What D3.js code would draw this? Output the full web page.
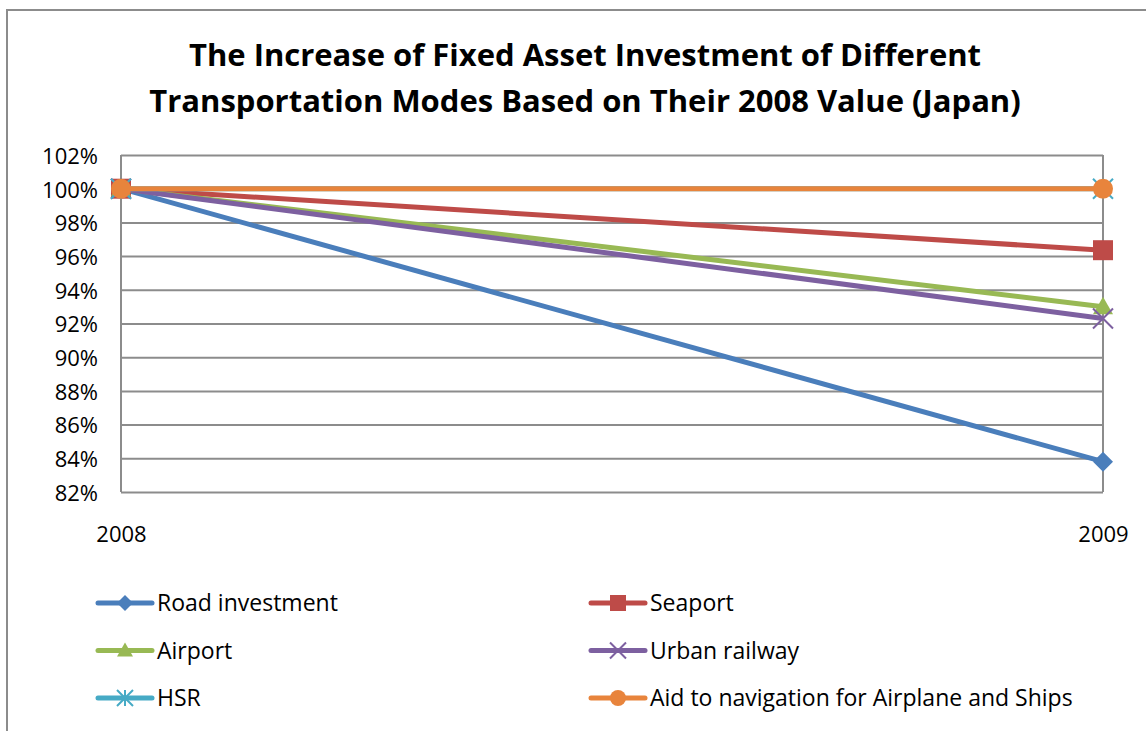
<!DOCTYPE html>
<html>
<head>
<meta charset="utf-8">
<script src="https://cdn.jsdelivr.net/npm/d3@7"></script>
<style>
  body { margin: 0; background: #fff; }
  text { font-family: "Open Sans", "Noto Sans", sans-serif; }
</style>
</head>
<body>
<div class="wrapper"></div>
<script>
var years = ["2008", "2009"];
var seriesNames = ["Road investment", "Seaport", "Airport", "Urban railway", "HSR", "Aid to navigation for Airplane and Ships"];
var road = [1.00, 0.838];
var seaport = [1.00, 0.9635];
var airport = [1.00, 0.930];
var urbanRailway = [1.00, 0.923];
var hsr = [1.00, 1.00];
var aidNav = [1.00, 1.00];
var yTicks = [0.82, 0.84, 0.86, 0.88, 0.90, 0.92, 0.94, 0.96, 0.98, 1.00, 1.02];
var titleLines = ["The Increase of Fixed Asset Investment of Different", "Transportation Modes Based on Their 2008 Value (Japan)"];

var allSeries = [road, seaport, airport, urbanRailway, hsr, aidNav];
var COLORS = ["#4A7EBB", "#BE4B48", "#98B954", "#7D60A0", "#46AAC5", "#E8843C"],
	SYMBOLS = ["diamond", "square", "triangle", "x", "star", "circle"];

var W = 1146, H = 731,
	PLOT_L = 121, PLOT_R = 1103, PLOT_T = 155, PLOT_B = 492;

var svg = d3.select(".wrapper")
	.append("svg")
		.attr("width", W)
		.attr("height", H);

// outer chart frame
svg.append("path")
	.attr("d", "M7," + H + "V10H" + W)
	.attr("fill", "none")
	.attr("stroke", "#8c8c8c")
	.attr("stroke-width", 2);

svg.append("g").selectAll("text")
	.data(titleLines)
	.enter()
	.append("text")
		.attr("x", 585)
		.attr("y", function(d, i) { return 66 + i * 46; })
		.attr("text-anchor", "middle")
		.attr("font-size", 31)
		.attr("font-weight", "bold")
		.attr("fill", "#000")
		.text(function(d) { return d; });

var x = d3.scalePoint().domain(years).range([PLOT_L, PLOT_R]);
var y = d3.scaleLinear().domain([0.82, 1.02]).range([PLOT_B, PLOT_T]);

// gridlines + y axis labels
var yAxis = d3.axisLeft(y)
	.tickValues(yTicks)
	.tickSize(-(PLOT_R - PLOT_L))
	.tickPadding(23)
	.tickFormat(d3.format(".0%"));

var gy = svg.append("g")
	.attr("transform", "translate(" + PLOT_L + ",0)")
	.call(yAxis);
gy.select(".domain").remove();
gy.selectAll(".tick line").attr("stroke", "#8c8c8c").attr("stroke-width", 2);
gy.selectAll(".tick text")
	.attr("font-size", 22)
	.attr("fill", "#000")
	.attr("dy", "0.38em")
	.attr("font-family", "Open Sans, sans-serif");

// vertical edges of plot area
svg.append("g").selectAll("line")
	.data(years)
	.enter()
	.append("line")
		.attr("x1", function(d) { return x(d); })
		.attr("x2", function(d) { return x(d); })
		.attr("y1", PLOT_T)
		.attr("y2", PLOT_B)
		.attr("stroke", "#8c8c8c")
		.attr("stroke-width", 2);

// x labels (sit well below the plot, as in the original)
var xAxis = d3.axisBottom(x).tickSize(0).tickPadding(0);
var gx = svg.append("g")
	.attr("transform", "translate(0,526)")
	.call(xAxis);
gx.select(".domain").remove();
gx.selectAll(".tick text")
	.attr("font-size", 22)
	.attr("fill", "#000")
	.attr("font-family", "Open Sans, sans-serif");

// marker drawing
function marker(sel, k, size) {
	var c = COLORS[k], s = SYMBOLS[k], r = size / 2, d;
	if (s === "x" || s === "star") {
		d = "M" + (-r) + "," + (-r) + "L" + r + "," + r + "M" + (-r) + "," + r + "L" + r + "," + (-r);
		if (s === "star") d += "M0," + (-r) + "V" + r;
		sel.append("path").attr("d", d).attr("stroke", c).attr("stroke-width", 2).attr("fill", "none");
		return;
	}
	if (s === "circle") {
		sel.append("circle").attr("r", r).attr("fill", c);
		return;
	}
	if (s === "diamond") d = "M0," + (-r) + "L" + r + ",0L0," + r + "L" + (-r) + ",0Z";
	if (s === "square") d = "M" + (-r) + "," + (-r) + "H" + r + "V" + r + "H" + (-r) + "Z";
	if (s === "triangle") d = "M0," + (-r) + "L" + r + "," + (r * 0.75) + "H" + (-r) + "Z";
	sel.append("path").attr("d", d).attr("fill", c);
}

var line = d3.line()
	.x(function(d, i) { return x(years[i]); })
	.y(function(d) { return y(d); });

var groups = svg.append("g").selectAll("g")
	.data(allSeries)
	.enter()
	.append("g");

groups.append("path")
	.attr("d", function(d) { return line(d); })
	.attr("fill", "none")
	.attr("stroke", function(d, i) { return COLORS[i]; })
	.attr("stroke-width", 5);

groups.each(function(d, k) {
	var g = d3.select(this);
	d.forEach(function(v, i) {
		var m = g.append("g").attr("transform", "translate(" + x(years[i]) + "," + y(v) + ")");
		marker(m, k, 20);
	});
});

// legend
var legend = svg.append("g").selectAll("g")
	.data(seriesNames)
	.enter()
	.append("g")
		.attr("transform", function(d, i) {
			return "translate(" + (i % 2 === 0 ? 98 : 591) + "," + (603 + Math.floor(i / 2) * 47.5) + ")";
		});

legend.append("line")
	.attr("x1", 0).attr("x2", 54)
	.attr("stroke", function(d, i) { return COLORS[i]; })
	.attr("stroke-width", 5)
	.attr("stroke-linecap", "round");

legend.each(function(d, k) {
	var m = d3.select(this).append("g").attr("transform", "translate(27,0)");
	marker(m, k, 16);
});

legend.append("text")
	.attr("x", 59)
	.attr("y", 8)
	.attr("font-size", 23)
	.attr("fill", "#000")
	.text(function(d) { return d; });
</script>
</body>
</html>
